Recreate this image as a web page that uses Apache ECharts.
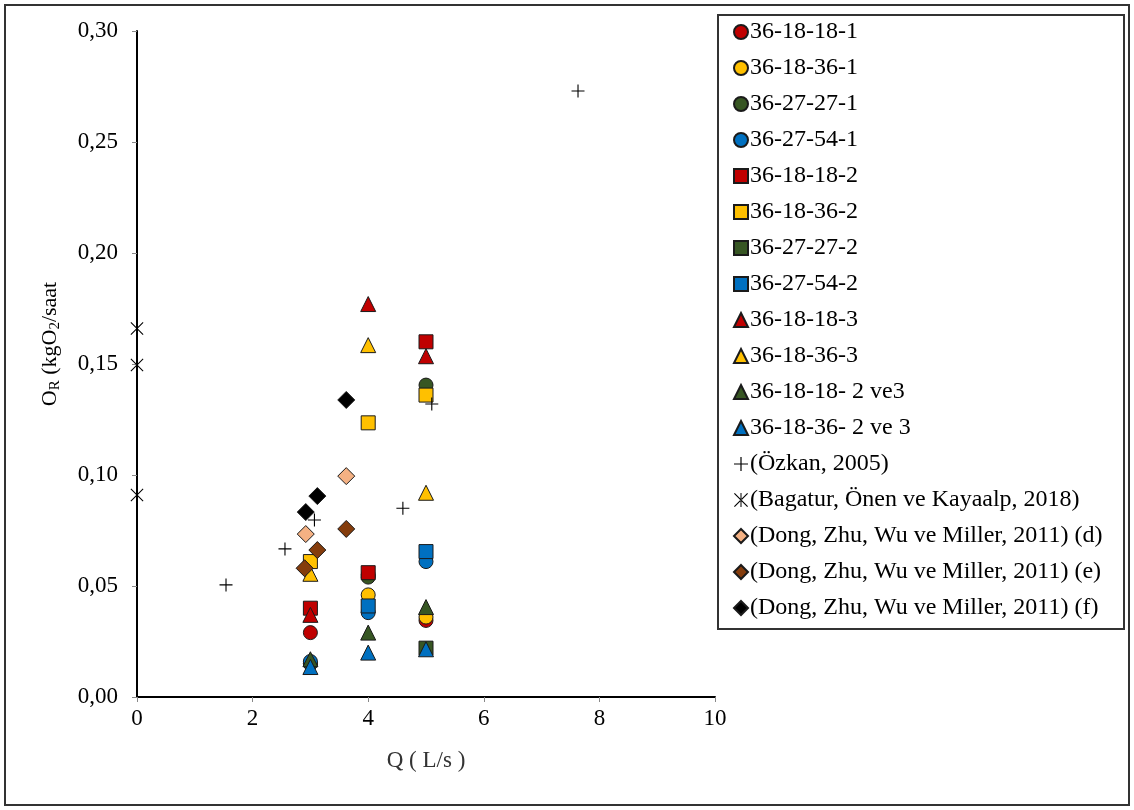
<!DOCTYPE html>
<html>
<head>
<meta charset="utf-8">
<script src="https://cdn.jsdelivr.net/npm/echarts@6/dist/echarts.min.js"></script>
<style>
  html, body { margin: 0; padding: 0; background: #fff; }
  #main { width: 1134px; height: 810px; }
</style>
</head>
<body>
<div id="main"></div>
<script>
// [Q, O_R] pairs
const s181_1 = [[3, 0.029], [4, 0.055], [5, 0.0345]];
const s1836_1 = [[3, 0.015], [4, 0.046], [5, 0.036]];
const s2727_1 = [[3, 0.015], [4, 0.054], [5, 0.1405]];
const s2754_1 = [[3, 0.016], [4, 0.038], [5, 0.061]];
const s1818_2 = [[3, 0.040], [4, 0.056], [5, 0.160]];
const s1836_2 = [[3, 0.061], [4, 0.1235], [5, 0.136]];
const s2727_2 = [[5, 0.022]];
const s2754_2 = [[4, 0.041], [5, 0.0655]];
const s1818_3 = [[3, 0.037], [4, 0.177], [5, 0.1535]];
const s1836_3 = [[3, 0.0555], [4, 0.1585], [5, 0.092]];
const s1818_23 = [[3, 0.017], [4, 0.029], [5, 0.0405]];
const s1836_23 = [[3, 0.0135], [4, 0.020], [5, 0.0215]];
const ozkan = [[1.54, 0.0505], [2.56, 0.0667], [3.07, 0.0797], [4.6, 0.085], [5.1, 0.132], [7.63, 0.273]];
const bagatur = [[0, 0.166], [0, 0.1495], [0, 0.091]];
const dongD = [[2.92, 0.0734], [3.62, 0.0995]];
const dongE = [[2.9, 0.058], [3.12, 0.0662], [3.62, 0.0757]];
const dongF = [[2.92, 0.0833], [3.12, 0.0905], [3.62, 0.1338]];

const names = [
  '36-18-18-1', '36-18-36-1', '36-27-27-1', '36-27-54-1',
  '36-18-18-2', '36-18-36-2', '36-27-27-2', '36-27-54-2',
  '36-18-18-3', '36-18-36-3', '36-18-18- 2 ve3', '36-18-36- 2 ve 3',
  '(Özkan, 2005)', '(Bagatur, Önen ve Kayaalp, 2018)',
  '(Dong, Zhu, Wu ve Miller, 2011) (d)', '(Dong, Zhu, Wu ve Miller, 2011) (e)',
  '(Dong, Zhu, Wu ve Miller, 2011) (f)'
];
const datasets = [s181_1, s1836_1, s2727_1, s2754_1, s1818_2, s1836_2, s2727_2, s2754_2,
  s1818_3, s1836_3, s1818_23, s1836_23, ozkan, bagatur, dongD, dongE, dongF];

const RED = '#C00000', YEL = '#FFC000', GRN = '#375623', BLU = '#0070C0';
const plusPath = 'path://M0,6.4H14V7.6H0Z M6.4,0H7.6V14H6.4Z';
const starPath = 'path://M0,0.8L0.8,0L14,13.2L13.2,14Z M14,0.8L13.2,0L0,13.2L0.8,14Z M6.5,0H7.5V14H6.5Z';

const looks = [
  ['circle', RED, 14], ['circle', YEL, 14], ['circle', GRN, 14], ['circle', BLU, 14],
  ['rect', RED, 14], ['rect', YEL, 14], ['rect', GRN, 14], ['rect', BLU, 14],
  ['triangle', RED, 15], ['triangle', YEL, 15], ['triangle', GRN, 15], ['triangle', BLU, 15],
  [plusPath, '#000', 13], [starPath, '#000', 13],
  ['diamond', '#F4B183', 17], ['diamond', '#843C0C', 17], ['diamond', '#000', 17]
];

const series = names.map((n, i) => {
  const [sym, col, size] = looks[i];
  const isLine = i === 12 || i === 13;
  return {
    name: n,
    type: 'scatter',
    data: datasets[i],
    symbol: sym,
    symbolSize: size,
    itemStyle: {
      color: col,
      opacity: 1,
      borderColor: isLine ? col : '#1a1a1a',
      borderWidth: isLine ? 0 : 1
    },
    emphasis: { disabled: true }
  };
});

const font = 'Liberation Serif';
const main = document.getElementById('main');
let myChart = echarts.init(main);

const option = {
  animation: false,
  backgroundColor: '#fff',
  textStyle: { fontFamily: font },
  graphic: [
    { type: 'rect', shape: { x: 5, y: 5, width: 1124, height: 800 },
      style: { fill: 'none', stroke: '#333', lineWidth: 2 }, silent: true },
    { type: 'rect', shape: { x: 718, y: 15, width: 406, height: 614 },
      style: { fill: 'none', stroke: '#333', lineWidth: 2 }, silent: true }
  ],
  legend: {
    orient: 'vertical',
    left: 733,
    top: 20,
    padding: 0,
    itemWidth: 14,
    itemHeight: 14,
    itemGap: 12,
    textStyle: { fontFamily: font, fontSize: 24, lineHeight: 24, color: '#000', padding: [0, 0, 0, -3] },
    data: names
  },
  grid: { left: 137, right: 419, top: 31, bottom: 113 },
  xAxis: {
    type: 'value',
    min: 0,
    max: 10,
    interval: 2,
    name: 'Q ( L/s )',
    nameLocation: 'middle',
    nameGap: 52,
    nameTextStyle: { fontFamily: font, fontSize: 23, color: '#333' },
    axisLine: { onZero: false, lineStyle: { color: '#000', width: 2 } },
    axisTick: { show: true, length: 5, lineStyle: { color: '#888' } },
    axisLabel: { fontFamily: font, fontSize: 23, color: '#000', margin: 10 },
    splitLine: { show: false }
  },
  yAxis: {
    type: 'value',
    min: 0,
    max: 0.3,
    interval: 0.05,
    name: 'O{sub|R} (kgO{sub|2}/saat',
    nameLocation: 'middle',
    nameRotate: 90,
    nameGap: 74,
    nameTextStyle: {
      fontFamily: font, fontSize: 22, color: '#000',
      padding: [0, 0, 0, 40],
      rich: { sub: { fontFamily: font, fontSize: 15, color: '#000', verticalAlign: 'bottom', padding: [10, 0, 0, 0] } }
    },
    axisLine: { show: true, onZero: false, lineStyle: { color: '#000', width: 2 } },
    axisTick: { show: true, length: 5, lineStyle: { color: '#888' } },
    axisLabel: {
      fontFamily: font, fontSize: 23, color: '#000', margin: 19,
      formatter: (v) => v.toFixed(2).replace('.', ',')
    },
    splitLine: { show: false }
  },
  series: series
};

myChart.setOption(option);
</script>
</body>
</html>
